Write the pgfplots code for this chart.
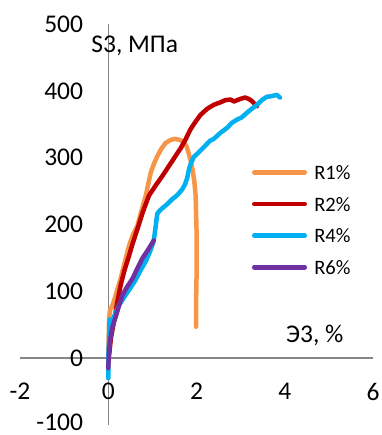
\documentclass[border=0pt]{standalone}
\usepackage{fontspec}
\setmainfont{Carlito}
\usepackage{pgfplots}
\pgfplotsset{compat=1.18}
\definecolor{rOne}{HTML}{F79646}
\definecolor{rTwo}{HTML}{C00000}
\definecolor{rFour}{HTML}{00B0F0}
\definecolor{rSix}{HTML}{7030A0}
\definecolor{axgray}{HTML}{868686}
\begin{document}
\begin{tikzpicture}[x=1bp,y=1bp]
\begin{axis}[
  at={(20bp,10bp)}, anchor=south west,
  scale only axis, width=353bp, height=401bp,
  xmin=-2, xmax=6, ymin=-100, ymax=500,
  clip=false,
  axis lines=middle,
  axis line style={-, draw=axgray, line width=1.5bp},
  hide obscured x ticks=false, hide obscured y ticks=false,
  xtick={-2,0,2,4,6}, xticklabels={-2,0,2,4,6},
  ytick={-100,0,100,200,300,400,500},
  yticklabels={\raisebox{-6bp}[0pt][0pt]{-100},0,100,200,300,400,500},
  major tick length=0pt,
  tick label style={font=\fontsize{25.5bp}{30bp}\selectfont, inner sep=0pt, text=black},
  xticklabel style={anchor=north, yshift=-25bp},
  yticklabel style={anchor=east, xshift=-25bp},
  every axis plot/.append style={line width=4.5bp, line cap=round, line join=round, no markers},
  legend cell align=left,
  legend style={at={(0.6572,0.6476)}, anchor=north west, draw=none, fill=none,
    inner sep=0pt, outer sep=0pt, row sep=17.7bp,
    font=\fontsize{20.5bp}{24bp}\selectfont,
    nodes={inner sep=0pt, text height=14bp, text depth=0bp}},
  legend image code/.code={%
    \draw[#1, line width=4.5bp, line cap=round] (2.25bp,0bp) -- (52.75bp,0bp);
    \path (60bp,0bp);},
]
% R1%
\addplot[rOne] coordinates {
(0,0) (0.01,30) (0.02,60) (0.04,72) (0.09,78) (0.15,90) (0.28,119) (0.38,145)
(0.47,168) (0.56,185) (0.66,198) (0.75,220) (0.85,243) (0.96,277) (1.03,290)
(1.11,302) (1.2,313) (1.30,322) (1.4,326) (1.49,328) (1.6,327) (1.71,324)
(1.78,316) (1.82,307) (1.87,295) (1.91,282) (1.95,265) (1.98,243) (2.00,193)
(2.00,150) (2.00,119) (1.99,80) (1.99,47)};
\addlegendentry{R1\%}
% R2%
\addplot[rTwo] coordinates {
(0,0) (0.02,5) (0.06,30) (0.13,55) (0.2,82) (0.28,109) (0.37,132) (0.47,153)
(0.56,173) (0.66,193) (0.78,218) (0.92,243) (1.07,258) (1.22,272) (1.37,287)
(1.52,302) (1.64,314) (1.75,327) (1.86,342) (1.97,353) (2.09,364) (2.24,373)
(2.39,379) (2.55,383) (2.65,386) (2.77,387) (2.85,384) (2.92,386) (3.0,388)
(3.10,390) (3.18,388) (3.25,385) (3.31,381) (3.37,377)};
\addlegendentry{R2\%}
% R4%
\addplot[rFour] coordinates {
(0,-30) (0.0,0) (0.02,30) (0.03,58) (0.08,55) (0.15,65) (0.25,80) (0.40,95)
(0.5,105) (0.62,117) (0.72,130) (0.85,145) (0.95,160) (1.03,175) (1.07,195)
(1.11,216) (1.17,221) (1.22,224) (1.33,230) (1.45,238) (1.55,243) (1.67,252)
(1.74,260) (1.79,270) (1.83,283) (1.88,293) (1.94,301) (2.05,308) (2.2,318)
(2.3,325) (2.39,328) (2.54,337) (2.7,345) (2.8,352) (2.92,357) (3.02,360)
(3.14,367) (3.25,373) (3.37,379) (3.48,386) (3.59,391) (3.7,392) (3.82,394)
(3.89,390)};
\addlegendentry{R4\%}
% R6%
\addplot[rSix] coordinates {
(0,-15) (0.01,0) (0.03,20) (0.06,35) (0.1,48) (0.17,62) (0.25,80) (0.32,94)
(0.42,106) (0.55,119) (0.65,133) (0.77,149) (0.9,162) (1.03,176)};
\addlegendentry{R6\%}
\node[font=\fontsize{25.5bp}{30bp}\selectfont, inner sep=0pt, anchor=center] at (axis cs:0.6,466.6) {S3, МПа};
\node[font=\fontsize{25.5bp}{30bp}\selectfont, inner sep=0pt, anchor=center] at (axis cs:4.68,34) {Э3, \%};
\end{axis}
\pgfresetboundingbox
\useasboundingbox (0,0) rectangle (381,435);
\end{tikzpicture}
\end{document}
